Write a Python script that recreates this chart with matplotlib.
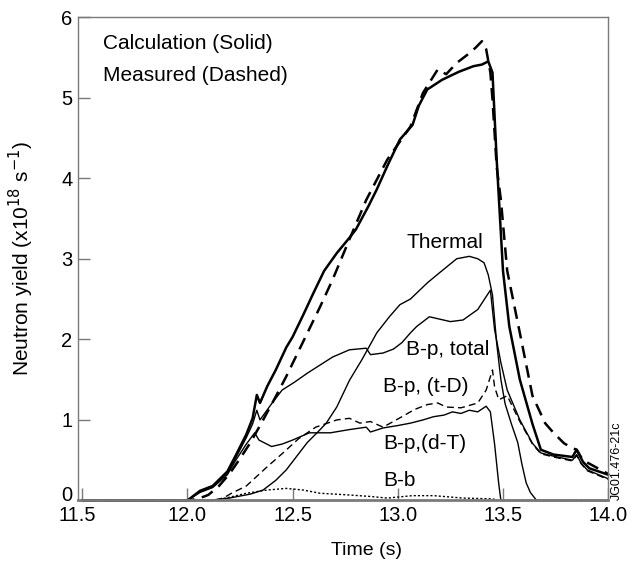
import matplotlib
matplotlib.use("Agg")
import matplotlib.pyplot as plt
from matplotlib.transforms import ScaledTranslation

plt.rcParams['font.family'] = ['Liberation Sans', 'DejaVu Sans']

# Calculation, total (thick solid)
t_total = [11.5, 12.0, 12.06, 12.12, 12.19, 12.23, 12.28, 12.31, 12.33, 12.345, 12.38, 12.42,
           12.47, 12.50, 12.55, 12.60, 12.65, 12.71, 12.77, 12.80, 12.86, 12.90, 12.95, 13.01,
           13.07, 13.10, 13.14, 13.21, 13.29, 13.36, 13.40, 13.43, 13.45, 13.47, 13.50, 13.53,
           13.58, 13.64, 13.68, 13.74, 13.83, 13.85, 13.88, 13.91, 14.0]
y_total = [0, 0, 0.12, 0.18, 0.36, 0.56, 0.82, 1.02, 1.31, 1.21, 1.42, 1.62,
           1.9, 2.03, 2.3, 2.58, 2.85, 3.07, 3.26, 3.36, 3.65, 3.86, 4.15, 4.48,
           4.66, 4.9, 5.10, 5.22, 5.32, 5.39, 5.41, 5.45, 5.31, 4.23, 2.85, 2.16,
           1.50, 0.95, 0.63, 0.57, 0.54, 0.63, 0.48, 0.40, 0.32]

# Measured (thick dashed)
t_meas = [11.5, 12.0, 12.05, 12.1, 12.15, 12.2, 12.25, 12.3, 12.36, 12.42, 12.47, 12.55,
          12.63, 12.69, 12.77, 12.85, 12.95, 13.06, 13.12, 13.19, 13.23, 13.28, 13.33, 13.37,
          13.40, 13.42, 13.44, 13.45, 13.47, 13.49, 13.52, 13.58, 13.64, 13.70, 13.74, 13.79,
          13.83, 13.85, 13.88, 14.0]
y_meas = [0, 0, 0.02, 0.07, 0.18, 0.33, 0.52, 0.72, 1.0, 1.29, 1.54, 1.97,
          2.40, 2.74, 3.24, 3.73, 4.23, 4.64, 5.06, 5.35, 5.29, 5.43, 5.53, 5.62,
          5.7, 5.6, 5.31, 4.98, 4.14, 3.73, 2.85, 2.08, 1.3, 0.96, 0.84, 0.71,
          0.65, 0.63, 0.5, 0.33]

# Thermal
t_th = [11.5, 12.1, 12.2, 12.3, 12.36, 12.42, 12.47, 12.52, 12.57, 12.62, 12.66, 12.71,
        12.77, 12.83, 12.90, 12.96, 13.01, 13.06, 13.14, 13.20, 13.28, 13.34, 13.38, 13.41,
        13.43, 13.45, 13.47, 13.49, 13.51, 13.54, 13.57, 13.59, 13.61, 13.63, 13.66, 14.0]
y_th = [0, 0, 0.03, 0.08, 0.13, 0.25, 0.38, 0.55, 0.72, 0.85, 0.96, 1.16,
        1.49, 1.75, 2.08, 2.28, 2.43, 2.5, 2.7, 2.83, 3.0, 3.03, 3.0, 2.95,
        2.8, 2.55, 1.95, 1.5, 1.2, 0.95, 0.72, 0.45, 0.22, 0.1, 0, 0]

# Beam-plasma, total
t_bp = [11.5, 12.0, 12.06, 12.12, 12.19, 12.23, 12.28, 12.31, 12.33, 12.345, 12.40, 12.45,
        12.51, 12.57, 12.63, 12.69, 12.77, 12.85, 12.87, 12.93, 12.98, 13.02, 13.06, 13.09,
        13.15, 13.20, 13.25, 13.31, 13.38, 13.44, 13.46, 13.49, 13.52, 13.58, 13.64, 13.68,
        13.74, 13.83, 13.85, 13.87, 13.90, 14.0]
y_bp = [0, 0, 0.11, 0.17, 0.34, 0.53, 0.78, 0.95, 1.12, 1.0, 1.2, 1.37,
        1.47, 1.58, 1.68, 1.78, 1.87, 1.89, 1.81, 1.83, 1.88, 1.96, 2.08, 2.16,
        2.28, 2.25, 2.22, 2.24, 2.37, 2.61, 2.12, 1.71, 1.37, 1.0, 0.71, 0.59,
        0.55, 0.50, 0.57, 0.47, 0.38, 0.27]

# Beam-plasma, t-D (thin dashed)
t_td = [11.5, 12.12, 12.17, 12.21, 12.28, 12.33, 12.38, 12.45, 12.53, 12.61, 12.71, 12.77,
        12.82, 12.87, 12.93, 13.02, 13.08, 13.14, 13.19, 13.23, 13.30, 13.38, 13.42, 13.45,
        13.46, 13.48, 13.52, 13.58, 13.64, 13.68, 13.74, 13.83, 13.85, 13.87, 13.90, 14.0]
y_td = [0, 0, 0.03, 0.09, 0.18, 0.3, 0.42, 0.58, 0.77, 0.91, 1.0, 1.02,
        0.96, 0.98, 0.91, 1.04, 1.13, 1.19, 1.21, 1.16, 1.15, 1.21, 1.37, 1.62,
        1.41, 1.25, 1.3, 0.98, 0.70, 0.58, 0.54, 0.49, 0.56, 0.46, 0.37, 0.26]

# Beam-plasma, d-T
t_dt = [11.5, 12.0, 12.06, 12.12, 12.19, 12.23, 12.28, 12.32, 12.34, 12.40, 12.45, 12.50,
        12.58, 12.68, 12.77, 12.85, 12.87, 12.93, 13.0, 13.06, 13.12, 13.17, 13.22, 13.26,
        13.30, 13.34, 13.38, 13.42, 13.44, 13.46, 13.48, 13.49, 14.0]
y_dt = [0, 0, 0.1, 0.16, 0.32, 0.5, 0.7, 0.84, 0.75, 0.67, 0.7, 0.75,
        0.84, 0.84, 0.88, 0.91, 0.85, 0.9, 0.93, 0.96, 1.0, 1.04, 1.06, 1.1,
        1.08, 1.12, 1.1, 1.17, 1.1, 0.7, 0.2, 0, 0]

# Beam-beam (dotted)
t_bb = [11.5, 12.12, 12.2, 12.28, 12.38, 12.47, 12.55, 12.63, 12.76, 12.87, 12.95, 13.07,
        13.17, 13.31, 13.45, 13.48, 14.0]
y_bb = [0, 0, 0.04, 0.09, 0.13, 0.15, 0.13, 0.09, 0.07, 0.05, 0.03, 0.06,
        0.06, 0.03, 0.02, 0, 0]

grey = "#7a7a7a"
fs = 15

fig = plt.figure(figsize=(6.35, 5.69), dpi=100)
ax = fig.add_axes([0.1228, 0.1204, 0.835, 0.8497])

ax.plot(t_bb, y_bb, color="black", lw=1.0, ls=(0, (1.5, 1.5)), clip_on=False)
ax.plot(t_dt, y_dt, color="black", lw=1.0, clip_on=False)
ax.plot(t_td, y_td, color="black", lw=1.0, ls=(0, (5, 3)), clip_on=False)
ax.plot(t_bp, y_bp, color="black", lw=1.0, clip_on=False)
ax.plot(t_th, y_th, color="black", lw=1.0, clip_on=False)
ax.plot(t_meas, y_meas, color="black", lw=1.8, ls=(0, (5, 3)), clip_on=False)
ax.plot(t_total, y_total, color="black", lw=1.8, clip_on=False)

ax.set_xlim(11.48, 14.0)
ax.set_ylim(0, 6)
ax.set_xticks([11.5, 12.0, 12.5, 13.0, 13.5, 14.0])
ax.set_xticklabels(["11.5", "12.0", "12.5", "13.0", "13.5", "14.0"])
ax.set_yticks([0, 1, 2, 3, 4, 5, 6])

for side in ["left", "right", "top"]:
    ax.spines[side].set_color(grey)
    ax.spines[side].set_linewidth(1.0)
ax.spines["bottom"].set_color(grey)
ax.spines["bottom"].set_linewidth(2.0)
ax.tick_params(direction="in", length=8.5, width=1.0, color=grey, labelsize=14.5, pad=4)
ax.tick_params(axis="x", which="both", top=False)
ax.tick_params(axis="y", which="both", right=False)

# nudge the corner labels so "0" and "11.5" don't collide
lab0 = ax.get_yticklabels()[0]
lab0.set_transform(lab0.get_transform() + ScaledTranslation(0, 0.07, fig.dpi_scale_trans))
lab115 = ax.get_xticklabels()[0]
lab115.set_transform(lab115.get_transform() + ScaledTranslation(-0.05, 0, fig.dpi_scale_trans))

ax.set_xlabel("Time (s)", fontsize=14)
ax.xaxis.set_label_coords(0.545, -0.085)
ax.set_ylabel("Neutron yield (x10$^{18}$ s$^{-1}$)", fontsize=15, va="center")
ax.yaxis.set_label_coords(-0.106, 0.5)

ax.text(0.047, 0.946, "Calculation (Solid)", transform=ax.transAxes, fontsize=fs, va="center")
ax.text(0.047, 0.88, "Measured (Dashed)", transform=ax.transAxes, fontsize=fs, va="center")

ax.text(13.04, 3.2, "Thermal", fontsize=fs, va="center")
ax.text(13.04, 1.87, "B-p, total", fontsize=fs, va="center")
ax.text(12.93, 1.42, "B-p, (t-D)", fontsize=fs, va="center")
ax.text(12.93, 0.71, "B-p,(d-T)", fontsize=fs, va="center")
ax.text(12.93, 0.25, "B-b", fontsize=fs, va="center")

ax.text(1.017, 0.0, "JG01.476-21c", transform=ax.transAxes, fontsize=9,
        rotation=90, ha="center", va="bottom")

fig.savefig("out.png", dpi=100)
